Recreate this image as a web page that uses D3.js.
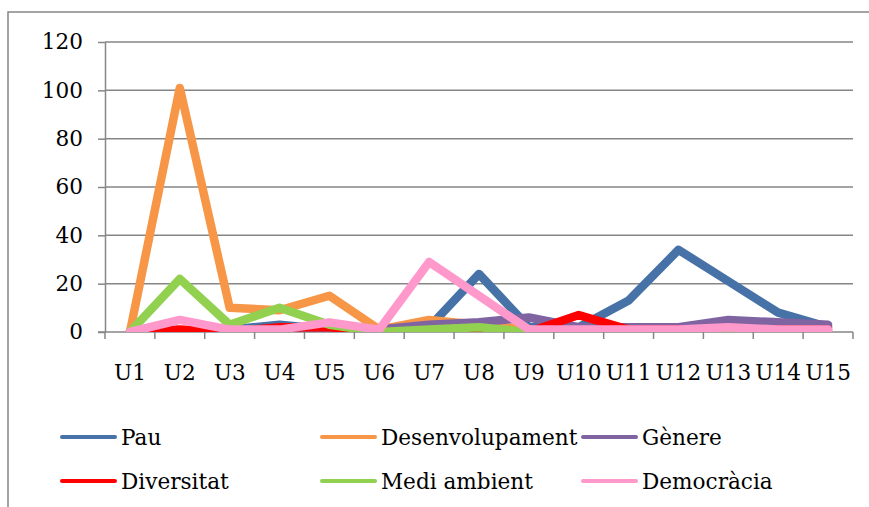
<!DOCTYPE html>
<html><head><meta charset="utf-8">
<script src="https://cdn.jsdelivr.net/npm/d3@7"></script>
<style>html,body{margin:0;padding:0;background:#fff;}svg{display:block;}</style>
</head><body>
<svg id="c" width="869" height="507"></svg>
<script>
const categories = ["U1","U2","U3","U4","U5","U6","U7","U8","U9","U10","U11","U12","U13","U14","U15"];
const seriesNames = ["Pau","Desenvolupament","Gènere","Diversitat","Medi ambient","Democràcia"];
const pau             = [0, 0, 1, 3, 1, 0, 2, 24, 2, 2, 13, 34, 21, 8, 2];
const desenvolupament = [0, 101, 10, 9, 15, 1, 5, 3, 1, 0, 0, 0, 0, 0, 0];
const genere          = [0, 0, 0, 1, 1, 1, 3, 4, 6, 2, 2, 2, 5, 4, 3];
const diversitat      = [0, 1, 0, 2, 2, 0, 0, 0, 0, 7, 1, 1, 1, 1, 1];
const mediAmbient     = [0, 22, 3, 10, 3, 0, 1, 2, 0, 0, 0, 0, 0, 0, 0];
const democracia      = [0, 5, 1, 1, 4, 1, 29, 15, 1, 1, 1, 1, 2, 1, 1];
const yTicks = [0, 20, 40, 60, 80, 100, 120];
const colors = ["#4672A8","#F79646","#8064A2","#FF0000","#92D050","#FF99CC"];
const allSeries = [pau, desenvolupament, genere, diversitat, mediAmbient, democracia];

const svg = d3.select("#c");
const FONT = "'DejaVu Serif', Georgia, serif";
const FS = 21.6;
const grey = "#868686";

// outer frame
svg.append("rect").attr("x", 8).attr("y", 12).attr("width", 900).attr("height", 600)
  .attr("fill", "none").attr("stroke", grey).attr("stroke-width", 1.5);

const L = 105, R = 853, T = 42, B = 332;
const x = d3.scaleBand().domain(categories).range([L, R]);
const y = d3.scaleLinear().domain([0, 120]).range([B, T]);

// gridlines
svg.append("g").selectAll("line").data(yTicks.filter(d => d > 0)).join("line")
  .attr("x1", L).attr("x2", R).attr("y1", d => y(d)).attr("y2", d => y(d))
  .attr("stroke", grey).attr("stroke-width", 1.5);

// y axis
const yAx = svg.append("g").attr("transform", `translate(${L},0)`)
  .call(d3.axisLeft(y).tickValues(yTicks).tickSize(7).tickPadding(15).tickSizeOuter(0));
yAx.select(".domain").attr("stroke", grey).attr("stroke-width", 1.5);
yAx.selectAll(".tick line").attr("stroke", grey).attr("stroke-width", 1.5);
yAx.selectAll("text").attr("font-family", FONT).attr("font-size", FS).attr("fill", "#000");

// x axis
const xAx = svg.append("g").attr("transform", `translate(0,${B})`)
  .call(d3.axisBottom(x).tickSize(0).tickPadding(33));
xAx.select(".domain").remove();
xAx.selectAll("text").attr("font-family", FONT).attr("font-size", FS).attr("fill", "#000");
const edges = categories.map(c => x(c)).concat([R]);
svg.append("g").selectAll("line").data(edges).join("line")
  .attr("x1", d => d).attr("x2", d => d).attr("y1", B).attr("y2", B + 7)
  .attr("stroke", grey).attr("stroke-width", 1.5);
svg.append("line").attr("x1", L - 7).attr("x2", R).attr("y1", B).attr("y2", B)
  .attr("stroke", grey).attr("stroke-width", 1.5);

// clip
svg.append("clipPath").attr("id", "pa").append("rect")
  .attr("x", L).attr("y", T - 10).attr("width", R - L).attr("height", B - T + 10);

const line = d3.line().x((d, i) => x(categories[i]) + x.bandwidth() / 2).y(d => y(d));
const lg = svg.append("g").attr("clip-path", "url(#pa)");
allSeries.forEach((s, k) => {
  lg.append("path").attr("d", line(s)).attr("fill", "none")
    .attr("stroke", colors[k]).attr("stroke-width", 8.5)
    .attr("stroke-linejoin", "round").attr("stroke-linecap", "round");
});

// legend
const legX = [62, 322, 583], legY = [437, 481];
seriesNames.forEach((n, k) => {
  const cx = legX[k % 3], cy = legY[Math.floor(k / 3)];
  svg.append("line").attr("x1", cx).attr("x2", cx + 53).attr("y1", cy).attr("y2", cy)
    .attr("stroke", colors[k]).attr("stroke-width", 4).attr("stroke-linecap", "round");
  svg.append("text").attr("x", cx + 59).attr("y", cy).attr("dy", "0.35em")
    .attr("font-family", FONT).attr("font-size", FS).attr("fill", "#000").text(n);
});
</script>
</body></html>
